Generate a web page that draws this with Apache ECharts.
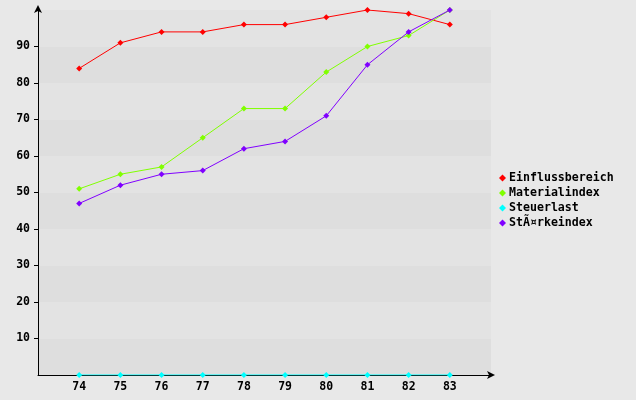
<!DOCTYPE html>
<html lang="en">
<head>
    <meta charset="UTF-8">
    <title>Chart</title>
    <script src="https://cdn.jsdelivr.net/npm/echarts@6.0.0/dist/echarts.min.js"></script>
</head>
<body style="margin:0;background:#e8e8e8;">
<div id="chart" style="width:636px;height:400px;"></div>
<script>
    var years = [74, 75, 76, 77, 78, 79, 80, 81, 82, 83];
    var einfluss = [84, 91, 94, 94, 96, 96, 98, 100, 99, 96];
    var material = [51, 55, 57, 65, 73, 73, 83, 90, 93, 100];
    var steuer = [0, 0, 0, 0, 0, 0, 0, 0, 0, 0];
    var staerke = [47, 52, 55, 56, 62, 64, 71, 85, 94, 100];
    var yTicks = [10, 20, 30, 40, 50, 60, 70, 80, 90];

    var names = ['Einflussbereich', 'Materialindex', 'Steuerlast', 'StÃ¤rkeindex'];
    var colors = ['#ff0000', '#80ff00', '#00ffff', '#8000ff'];
    var values = [einfluss, material, steuer, staerke];

    var font = 'DejaVu Sans Mono';
    var chart = echarts.init(document.getElementById('chart'));
    var option = {
        backgroundColor: '#e8e8e8',
        animation: false,
        color: colors,
        grid: {left: 38, right: 145, top: 10, bottom: 25},
        legend: {
            orient: 'vertical',
            left: 494,
            top: 167,
            itemWidth: 7,
            itemHeight: 7,
            itemGap: 3,
            icon: 'diamond',
            textStyle: {fontFamily: font, fontWeight: 'bold', fontSize: 11.6, color: '#000', padding: [0, 0, 0, -2]},
            data: names
        },
        xAxis: {
            type: 'value',
            min: 73,
            max: 84,
            interval: 1,
            splitLine: {show: false},
            axisTick: {show: false},
            axisLine: {show: true, lineStyle: {color: '#000', width: 1}, symbol: ['none', 'arrow'], symbolSize: [6, 8], symbolOffset: [0, 4]},
            axisLabel: {
                customValues: years,
                fontFamily: font, fontWeight: 'bold', fontSize: 11.5, color: '#000', margin: 6
            }
        },
        yAxis: [{
            // background bands only
            type: 'value',
            min: 0,
            max: 100,
            interval: 10,
            splitLine: {show: false},
            splitArea: {show: true, areaStyle: {color: ['#dedede', '#e3e3e3']}},
            axisLine: {show: false},
            axisTick: {show: false},
            axisLabel: {show: false}
        }, {
            type: 'value',
            position: 'left',
            min: 0,
            max: 100,
            interval: 10,
            splitLine: {show: false},
            splitArea: {show: false},
            axisLine: {show: true, lineStyle: {color: '#000', width: 1}, symbol: ['none', 'arrow'], symbolSize: [6, 8], symbolOffset: [0, 5]},
            axisTick: {show: true, length: 4, customValues: yTicks, lineStyle: {color: '#000'}},
            axisLabel: {
                customValues: yTicks,
                fontFamily: font, fontWeight: 'bold', fontSize: 11.5, color: '#000', margin: 8
            }
        }],
        series: names.map(function (n, i) {
            return {
                name: n,
                type: 'line',
                yAxisIndex: 0,
                data: years.map(function (y, j) { return [y, values[i][j]]; }),
                symbol: 'diamond',
                symbolSize: 6,
                lineStyle: {width: 1, color: colors[i]},
                itemStyle: {color: colors[i]}
            };
        })
    };
    chart.setOption(option);
</script>
</body>
</html>
